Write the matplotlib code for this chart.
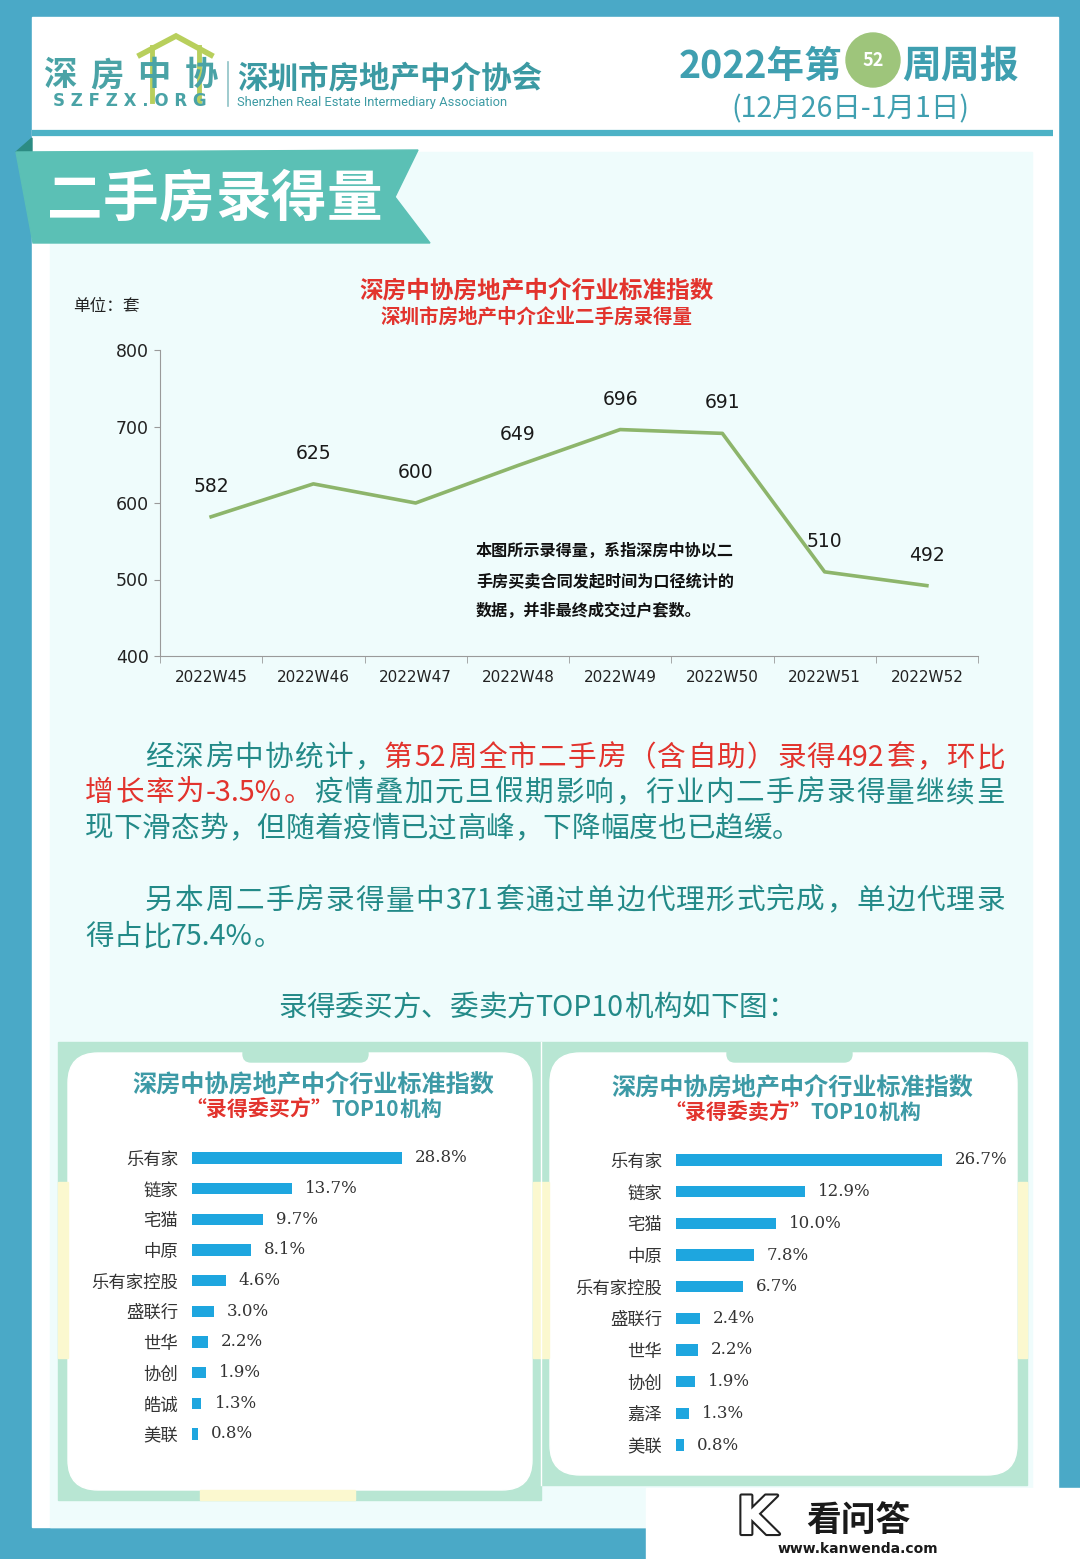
import re

import matplotlib

matplotlib.use("Agg", force=True)
import matplotlib.pyplot as plt
import matplotlib.patheffects as pe
from matplotlib.patches import Circle, FancyBboxPatch, Polygon, Rectangle

W, H = 1080, 1559
PX = 72 / 100  # pixel -> point at dpi 100

plt.rcParams["font.family"] = ["Noto Sans CJK SC", "DejaVu Sans"]

# ---- data ----
weeks = ["2022W45", "2022W46", "2022W47", "2022W48", "2022W49", "2022W50", "2022W51", "2022W52"]
volumes = [582, 625, 600, 649, 696, 691, 510, 492]
y_ticks = [400, 500, 600, 700, 800]

buyer_agencies = ["乐有家", "链家", "宅猫", "中原", "乐有家控股", "盛联行", "世华", "协创", "皓诚", "美联"]
buyer_share = [28.8, 13.7, 9.7, 8.1, 4.6, 3.0, 2.2, 1.9, 1.3, 0.8]
seller_agencies = ["乐有家", "链家", "宅猫", "中原", "乐有家控股", "盛联行", "世华", "协创", "嘉泽", "美联"]
seller_share = [26.7, 12.9, 10.0, 7.8, 6.7, 2.4, 2.2, 1.9, 1.3, 0.8]

# ---- colours ----
BLUE = "#4aa9c7"
CYAN = "#effcfc"
HEAD_TEAL = "#3f9fb0"
BANNER = "#5bc0b5"
BANNER_DARK = "#2c8c83"
TXT_TEAL = "#238a88"
RED = "#e2332d"
MINT = "#b8e6d3"
PALE_YELLOW = "#fbf8cf"
BAR = "#1ea6df"
LINE_GREEN = "#8db56b"

fig = plt.figure(figsize=(W / 100, H / 100), dpi=100)
fig.patch.set_facecolor(BLUE)
bg = fig.add_axes([0, 0, 1, 1])
bg.set_xlim(0, W)
bg.set_ylim(H, 0)
bg.axis("off")
renderer = fig.canvas.get_renderer()


def token_width(tok, size, weight):
    em = size / PX
    if re.fullmatch(r"[ -~]+", tok):
        t = bg.text(0, 0, tok, fontsize=size, weight=weight)
        w = t.get_window_extent(renderer).width
        t.remove()
        return w + 0.04 * em
    return em


def draw_runs(x, y, pieces, size, weight="normal", x_end=None, ha="left"):
    # place coloured runs on one baseline, optionally justified to x_end
    tokens = [(tok, c) for s, c in pieces for tok in re.findall(r"[ -~]+|.", s)]
    widths = [token_width(tok, size, weight) for tok, _ in tokens]
    gap = 0.0
    if x_end is not None and len(tokens) > 1:
        gap = (x_end - x - sum(widths)) / (len(tokens) - 1)
    total = sum(widths) + gap * (len(tokens) - 1)
    if ha == "center":
        x -= total / 2
    for (tok, c), w in zip(tokens, widths):
        bg.text(x, y, tok, fontsize=size, color=c, weight=weight, va="baseline", ha="left")
        x += w + gap


def px_axes(x0, y0, x1, y1):
    return fig.add_axes([x0 / W, 1 - y1 / H, (x1 - x0) / W, (y1 - y0) / H])


# ---- page frame ----
bg.add_patch(Rectangle((32, 17), 1026, 1510, color="white", zorder=0))
bg.add_patch(Rectangle((50, 152), 982, 1375, color=CYAN, zorder=0))
bg.plot([32, 1053], [133, 133], color="#4db2c6", lw=4.5, solid_capstyle="butt")

# header logo
bg.plot([140, 176, 211], [55, 36, 55], color="#b8cf5c", lw=4, solid_joinstyle="miter")
bg.plot([152, 152], [47, 101], color="#b8cf5c", lw=3.5)
bg.plot([199, 199], [47, 101], color="#b8cf5c", lw=3.5)
draw_runs(43, 85, [("深房中协", "#4aa3a6")], 24, "bold", x_end=218)
bg.text(130, 101, "S Z F Z X . O R G", fontsize=12, weight="bold", color="#4aa3a6",
        family="DejaVu Sans", ha="center", va="center")
bg.plot([228, 228], [62, 106], color="#8fc2c6", lw=1.2)
bg.text(237, 87, "深圳市房地产中介协会", fontsize=22, weight="bold", color="#3c9aa3", va="baseline")
bg.text(237, 106, "Shenzhen Real Estate Intermediary Association", fontsize=9.3,
        family="Roboto", color="#3c9aa3", va="baseline")

bg.text(842, 78, "2022年第", fontsize=27, weight="bold", color=HEAD_TEAL, ha="right", va="baseline")
bg.add_patch(Circle((873, 60), 27, color="#9ec57b"))
bg.text(873, 60, "52", fontsize=13, weight="bold", color="white", ha="center", va="center")
bg.text(902, 78, "周周报", fontsize=28, weight="bold", color=HEAD_TEAL, ha="left", va="baseline")
bg.text(850, 117, "(12月26日-1月1日)", fontsize=20.5, color=HEAD_TEAL, ha="center", va="baseline")

# section banner
bg.add_patch(Polygon([(16, 152), (32, 138), (32, 152)], color=BANNER_DARK))
bg.add_patch(Polygon([(16, 152), (418, 150), (395, 197), (430, 243), (33, 243)], color=BANNER))
draw_runs(47, 216, [("二手房录得量", "white")], 40, "bold", x_end=382)

# ---- line chart ----
bg.text(73, 311, "单位：套", fontsize=12, color="#222222", va="baseline")
bg.text(536, 298, "深房中协房地产中介行业标准指数", fontsize=17, weight="bold", color=RED,
        ha="center", va="baseline")
bg.text(536, 323, "深圳市房地产中介企业二手房录得量", fontsize=14, weight="bold", color=RED,
        ha="center", va="baseline")

ax = px_axes(160, 350, 978, 656)
ax.set_facecolor("none")
xs = list(range(len(weeks)))
ax.plot(xs, volumes, color=LINE_GREEN, lw=2.6, solid_joinstyle="round")
for x, v in zip(xs, volumes):
    ax.annotate(str(v), (x, v), xytext=(0, 22), textcoords="offset points",
                ha="center", va="center", fontsize=13.5, color="#1a1a1a", family="DejaVu Sans")
ax.set_xlim(-0.5, len(weeks) - 0.5)
ax.set_ylim(min(y_ticks), max(y_ticks))
ax.set_yticks(y_ticks)
ax.set_xticks(xs, weeks)
ax.set_xticks([i - 0.5 for i in range(len(weeks) + 1)], minor=True)
for side in ("top", "right"):
    ax.spines[side].set_visible(False)
for side in ("left", "bottom"):
    ax.spines[side].set_color("#9a9a9a")
ax.tick_params(axis="x", which="major", length=0, pad=10, labelsize=11, labelcolor="#222222")
ax.tick_params(axis="x", which="minor", length=5, color="#9a9a9a")
ax.tick_params(axis="y", length=4, color="#9a9a9a", pad=4, labelsize=12.5, labelcolor="#222222")
for lab in ax.get_xticklabels() + ax.get_yticklabels():
    lab.set_family("DejaVu Sans")

note_lines = ["本图所示录得量，系指深房中协以二", "手房买卖合同发起时间为口径统计的", "数据，并非最终成交过户套数。"]
for i, line in enumerate(note_lines):
    bg.text(476, 556 + 30 * i, line, fontsize=11.6, weight="bold", color="#111111", va="baseline")

# ---- paragraphs ----
BODY = 20.6
draw_runs(85, 766, [("　　经深房中协统计，", TXT_TEAL), ("第52周全市二手房（含自助）录得492套，环比", RED)],
          BODY, x_end=1005)
draw_runs(85, 801, [("增长率为-3.5%。", RED), ("疫情叠加元旦假期影响，行业内二手房录得量继续呈", TXT_TEAL)],
          BODY, x_end=1005)
draw_runs(85, 837, [("现下滑态势，但随着疫情已过高峰，下降幅度也已趋缓。", TXT_TEAL)], BODY)
draw_runs(85, 909, [("　　另本周二手房录得量中371套通过单边代理形式完成，单边代理录", TXT_TEAL)],
          BODY, x_end=1005)
draw_runs(85, 945, [("得占比75.4%。", TXT_TEAL)], BODY)
draw_runs(537, 1016, [("录得委买方、委卖方TOP10机构如下图：", TXT_TEAL)], BODY, ha="center")

# ---- bar chart panels ----
bg.add_patch(Rectangle((58, 1042), 483, 458, color=MINT))
bg.add_patch(Rectangle((541, 1042), 486, 443, color=MINT))
bg.plot([541, 541], [1042, 1485], color="white", lw=1)
for x0, x1, y1 in ((68, 532, 1490), (550, 1017, 1475)):
    bg.add_patch(FancyBboxPatch((x0, 1053), x1 - x0, y1 - 1053,
                                boxstyle="round,pad=0,rounding_size=30", color="white"))
for tx in (243, 727):
    bg.add_patch(FancyBboxPatch((tx, 1046), 125, 16, boxstyle="round,pad=0,rounding_size=8", color=MINT))
for yx0, yx1 in ((58, 68), (533, 541), (541, 549), (1018, 1027)):
    bg.add_patch(Rectangle((yx0, 1182), yx1 - yx0, 176, color=PALE_YELLOW))
bg.add_patch(Rectangle((200, 1490), 155, 10, color=PALE_YELLOW))


def bar_panel(cx, title_y, labels, values, x0, y_top, y_bot, px_per_unit, x_right, quoted):
    bg.text(cx, title_y, "深房中协房地产中介行业标准指数", fontsize=17.4, weight="bold",
            color="#3d9aa6", ha="center", va="baseline")
    draw_runs(cx, title_y + 25, [(quoted, RED), ("TOP10机构", "#3d9aa6")], 15, "bold", ha="center")
    n = len(values)
    step = (y_bot - y_top) / (n - 1)
    bax = px_axes(x0, y_top - step / 2, x_right, y_bot + step / 2)
    bax.set_facecolor("none")
    rows = list(range(n))
    bax.barh(rows, values, height=0.36, color=BAR)
    for r, v in zip(rows, values):
        bax.annotate(f"{v:.1f}%", (v, r), xytext=(9.5, 0), textcoords="offset points",
                     ha="left", va="center", fontsize=12, color="#333333", family="DejaVu Serif")
    bax.set_xlim(0, (x_right - x0) / px_per_unit)
    bax.set_ylim(n - 0.5, -0.5)
    bax.set_yticks(rows, labels)
    bax.set_xticks([])
    bax.tick_params(axis="y", length=0, pad=10, labelsize=12.5, labelcolor="#333333")
    for s in bax.spines.values():
        s.set_visible(False)


bar_panel(313, 1091, buyer_agencies, buyer_share, 192, 1158, 1434, 210 / buyer_share[0], 490,
          "“录得委买方”")
bar_panel(792, 1094, seller_agencies, seller_share, 676, 1160, 1445, 266 / seller_share[0], 1005,
          "“录得委卖方”")

# ---- watermark box ----
bg.add_patch(Rectangle((646, 1488), 434, 71, color="white"))
bg.text(757, 1519, "K", fontsize=38, weight="bold", color="white", ha="center", va="center",
        family="DejaVu Sans", path_effects=[pe.withStroke(linewidth=3, foreground="#222222")])
bg.text(858, 1520, "看问答", fontsize=25, weight="bold", color="#1a1a1a", ha="center", va="center")
bg.text(858, 1549, "www.kanwenda.com", fontsize=10, weight="bold", color="#1a1a1a",
        ha="center", va="center", family="DejaVu Sans")

fig.savefig("out.png", dpi=100, facecolor=fig.get_facecolor())
